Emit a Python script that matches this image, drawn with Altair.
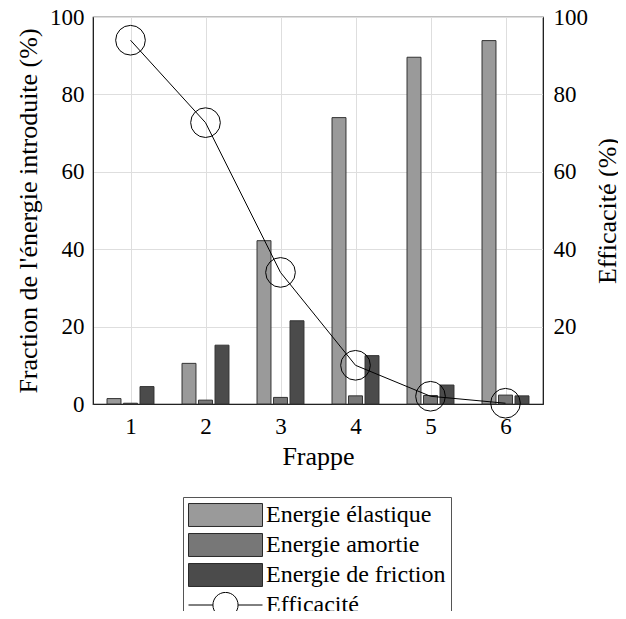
import altair as alt
import pandas as pd

frappe = [1, 2, 3, 4, 5, 6]
elastique = [1.4, 10.5, 42.2, 74.0, 89.6, 93.9]
amortie = [0.2, 1.0, 1.7, 2.1, 2.2, 2.3]
friction = [4.5, 15.2, 21.5, 12.5, 4.9, 2.1]
efficacite = [94.0, 72.7, 34.0, 10.0, 2.0, 0.2]
series = ["Energie élastique", "Energie amortie", "Energie de friction"]
legend_names = series + ["Efficacité"]
colors = ["#9a9a9a", "#777777", "#4b4b4b", "#ffffff"]
strokes = ["#2a2a2a", "#2a2a2a", "#2a2a2a", "#000000"]

bars_df = pd.DataFrame({
    "frappe": frappe * 3,
    "serie": [s for s in series for _ in frappe],
    "idx": [i for i in range(3) for _ in frappe],
    "valeur": elastique + amortie + friction,
})
eff_df = pd.DataFrame({"frappe": frappe, "eff": efficacite})
legend_df = pd.DataFrame({"serie": legend_names})

FONT = "Liberation Serif, Times New Roman, DejaVu Serif, serif"

x_scale = alt.Scale(domain=[0.5, 6.5], nice=False, zero=False)
x_axis = alt.Axis(values=frappe, title="Frappe", format="d", labelPadding=11,
                  titlePadding=5, ticks=False)

rect_path = "M-1,-0.31H1V0.31H-1Z"
eff_path = "M-1,0H-0.34M0.34,0H1M-0.34,0A0.34,0.34 0 1,1 0.34,0A0.34,0.34 0 1,1 -0.34,0"

fill_scale = alt.Scale(domain=legend_names, range=colors)
shape_scale = alt.Scale(domain=legend_names, range=[rect_path, rect_path, rect_path, eff_path])
stroke_scale = alt.Scale(domain=legend_names, range=strokes)

legend = alt.Legend(
    title=None, orient="none", legendX=90, legendY=480,
    symbolSize=5476, clipHeight=26, rowPadding=4,
    labelFont=FONT, labelFontSize=24, labelColor="black", labelOffset=3,
    labelLimit=400,
    padding=5, strokeColor="#555555", fillColor="white",
    symbolStrokeWidth=1, symbolOpacity=1,
)

bars = alt.Chart(bars_df).transform_calculate(
    x0="datum.frappe + (datum.idx - 1) * 0.22 - 0.093",
    x1="datum.frappe + (datum.idx - 1) * 0.22 + 0.093",
).mark_bar(stroke="#333333", strokeWidth=1).encode(
    x=alt.X("x0:Q", scale=x_scale, axis=x_axis),
    x2="x1:Q",
    y=alt.Y("valeur:Q", scale=alt.Scale(domain=[0, 100], nice=False),
            axis=alt.Axis(values=[0, 20, 40, 60, 80, 100],
                          title="Fraction de l'énergie introduite (%)",
                          labelPadding=9, titlePadding=8, ticks=False)),
    y2=alt.datum(0),
    fill=alt.Fill("serie:N", scale=fill_scale, legend=legend),
)

legend_layer = alt.Chart(legend_df).mark_point(
    opacity=0, filled=True, strokeWidth=1
).encode(
    fill=alt.Fill("serie:N", scale=fill_scale, legend=legend),
    shape=alt.Shape("serie:N", scale=shape_scale, legend=legend),
    stroke=alt.Stroke("serie:N", scale=stroke_scale, legend=legend),
)

y_right = alt.Y("eff:Q", scale=alt.Scale(domain=[0, 100], nice=False),
                axis=alt.Axis(orient="right", values=[20, 40, 60, 80, 100],
                              title="Efficacité (%)", titleAngle=270, titleBaseline="top",
                              labelPadding=10, titlePadding=7, ticks=False, grid=False))

line = alt.Chart(eff_df).mark_line(color="black", strokeWidth=1).encode(
    x=alt.X("frappe:Q", scale=x_scale, axis=x_axis),
    y=y_right,
)
points = alt.Chart(eff_df).mark_point(shape="circle", size=880, filled=False,
                                      color="black", strokeWidth=1, opacity=1).encode(
    x=alt.X("frappe:Q", scale=x_scale, axis=x_axis),
    y=y_right,
)

chart = alt.layer(alt.layer(bars, legend_layer), alt.layer(line, points)).resolve_scale(
    y="independent"
).properties(
    width=450, height=387,
    autosize=alt.AutoSizeParams(type="none"),
    padding={"left": 85, "top": 9, "right": 75, "bottom": 207},
).configure_view(
    stroke="black", strokeWidth=1.2
).configure_axis(
    labelFont=FONT, titleFont=FONT, labelFontSize=23, titleFontSize=26,
    labelColor="black", titleColor="black", titleFontWeight="normal",
    domainColor="#222222", tickColor="#222222",
    gridColor="#dedede", gridWidth=1,
)

chart.save("out.html", embed_options={"renderer": "svg", "actions": False})
